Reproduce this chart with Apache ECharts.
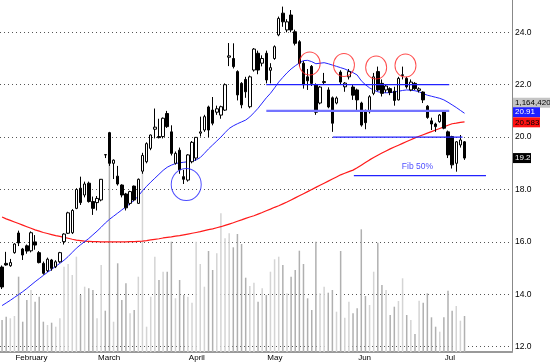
<!DOCTYPE html>
<html><head><meta charset="utf-8">
<script src="https://cdn.jsdelivr.net/npm/echarts@6/dist/echarts.min.js"></script>
<style>html,body{margin:0;padding:0;background:#fff}#c{width:550px;height:364px}</style>
</head><body><div id="c"></div>
<script>
// ---------- data ----------
const SLOTS = 124; // trading-day slots on the time axis (last ones empty)
const categories = Array.from({length: SLOTS}, (_, i) => 'd' + i);
const monthNames = ['February', 'March', 'April', 'May', 'Jun', 'Jul'];
const monthStartIdx = [3, 23, 45, 64, 86, 107];
const priceTicks = [12, 14, 16, 18, 20, 22, 24];

// [open, close, low, high]
const ohlc = [
[15.04,14.28,14.2,15.1],[15.18,15.12,15.09,15.62],[15.09,15.21,15.05,15.35],[15.59,15.92,15.55,15.95],[16.34,15.96,15.84,16.43],
[15.73,15.5,15.31,15.77],[15.85,15.65,15.55,15.9],[15.66,16.35,15.6,16.4],[16.0,15.88,15.7,16.26],[15.59,15.21,15.18,15.65],
[15.18,14.8,14.75,15.25],[14.9,15.34,14.85,15.4],[15.31,14.99,14.9,15.35],[15.05,15.24,15.0,15.3],[15.24,15.59,15.2,15.62],
[16.01,16.3,15.9,16.33],[16.33,17.11,16.3,17.15],[16.35,17.2,16.3,17.25],[17.28,18.0,17.25,18.05],[18.05,17.5,17.41,18.49],
[17.79,18.21,17.7,18.3],[18.24,17.54,17.5,18.3],[17.54,17.28,17.03,17.73],[17.5,17.66,17.2,17.75],[17.6,18.39,17.55,18.4],
[19.33,19.32,19.2,19.35],[20.17,19.0,18.9,20.2],[19.0,19.12,18.4,19.15],[18.51,18.21,18.15,18.9],[18.17,17.79,17.7,18.2],
[17.83,17.3,17.2,17.87],[17.47,17.92,17.4,17.95],[18.13,17.6,17.55,18.15],[17.47,18.39,17.45,18.42],[18.7,19.3,18.6,19.4],
[19.06,19.75,19.0,19.8],[19.57,20.08,19.5,20.1],[20.3,20.38,19.95,21.09],[20.02,19.98,19.95,20.7],[20.02,20.72,19.95,20.75],
[20.9,20.4,20.35,21.0],[20.2,19.38,19.3,20.45],[19.0,19.38,18.95,19.45],[19.5,18.75,18.6,19.6],[18.49,18.39,18.21,18.75],
[18.36,19.32,18.3,19.35],[19.06,19.8,19.0,19.85],[19.2,19.99,19.1,20.0],[20.15,20.2,20.02,20.78],[20.27,20.78,20.2,20.85],
[21.15,20.27,20.0,21.2],[21.03,20.53,20.45,21.53],[20.95,21.08,20.85,21.2],[20.84,21.16,20.7,21.2],[21.03,22.0,21.0,22.05],
[23.05,23.1,22.71,23.59],[23.0,22.69,22.62,23.58],[22.5,21.61,21.4,22.55],[22.05,21.23,21.1,22.1],[22.2,21.73,21.5,22.3],
[21.16,22.3,21.1,22.35],[22.56,23.36,22.5,23.4],[23.2,22.56,22.4,23.3],[22.82,23.0,22.7,23.12],[23.2,22.18,22.05,23.3],
[22.55,22.65,22.05,22.82],[23.0,23.45,22.95,23.5],[23.9,24.53,23.85,24.6],[24.73,24.4,24.21,24.98],[24.09,24.4,24.0,24.5],
[24.66,24.09,24.0,24.85],[24.02,23.58,23.5,24.1],[23.64,22.82,22.7,23.7],[22.82,22.0,21.85,22.9],[22.3,22.15,21.8,22.6],
[22.7,22.05,21.95,22.75],[22.0,20.95,20.85,22.05],[21.3,21.91,21.25,21.95],[22.08,22.12,21.99,22.45],[21.8,21.15,21.1,21.9],
[21.5,20.53,20.2,21.55],[21.3,21.49,21.25,21.55],[22.48,22.1,22.0,22.55],[21.92,22.06,21.73,22.1],[22.3,22.5,22.2,22.6],
[21.91,21.6,21.42,22.0],[21.8,21.42,21.03,21.85],[21.3,20.46,20.4,21.35],[21.0,20.55,20.3,21.05],[20.97,21.54,20.9,21.6],
[21.67,22.3,21.6,22.45],[22.5,21.8,21.75,22.69],[22.05,21.67,21.55,22.2],[21.8,21.95,21.7,22.0],[21.85,21.7,21.6,21.9],
[21.75,21.4,21.2,21.92],[21.42,22.24,21.4,22.3],[22.35,22.38,22.2,22.69],[22.24,21.92,21.85,22.3],[21.8,22.1,21.75,22.2],
[22.05,21.85,21.8,22.1],[21.78,21.84,21.7,21.9],[21.72,21.42,21.3,21.75],[21.18,20.75,20.7,21.22],[20.62,20.5,20.27,20.74],
[20.5,20.4,20.2,20.55],[20.59,20.84,20.55,20.88],[20.97,20.34,20.3,21.0],[20.2,19.32,19.2,20.25],[20.02,18.94,18.8,20.05],
[19.0,19.82,18.68,19.85],[19.7,19.89,19.6,20.08],[19.82,19.2,19.13,19.85]
];

const volume = [
320000,353000,337000,360000,753000,303000,520000,620000,503000,553000,
303000,270000,293000,253000,337000,853000,880000,770000,953000,570000,
653000,637000,620000,337000,870000,413000,1890000,303000,887000,520000,
687000,387000,420000,753000,1820000,253000,553000,953000,720000,803000,
803000,1103000,537000,720000,570000,553000,493000,1103000,880000,653000,
1010000,820000,987000,1387000,1137000,1187000,1047000,1180000,1080000,743000,
660000,693000,503000,637000,570000,803000,927000,953000,870000,587000,
753000,820000,1013000,880000,537000,420000,1103000,587000,653000,593000,
620000,403000,1010000,343000,503000,387000,437000,1227000,560000,470000,
803000,1093000,670000,620000,370000,453000,510000,737000,370000,320000,
180000,513000,493000,587000,347000,253000,203000,347000,613000,413000,
460000,313000,360000
];

const maShort = [
13.57,13.67,13.77,13.88,13.99,14.1,14.22,14.35,14.48,14.6,
14.72,14.84,14.95,15.07,15.18,15.3,15.44,15.6,15.76,15.89,
16.01,16.13,16.27,16.41,16.56,16.72,16.86,16.98,17.1,17.22,
17.34,17.46,17.59,17.75,17.95,18.12,18.28,18.43,18.58,18.73,
18.85,18.93,18.99,19.02,19.04,19.06,19.09,19.13,19.22,19.38,
19.55,19.7,19.85,20.0,20.17,20.33,20.43,20.51,20.58,20.65,
20.77,20.93,21.1,21.3,21.5,21.67,21.88,22.1,22.28,22.45,
22.6,22.72,22.83,22.92,22.93,22.88,22.8,22.82,22.84,22.8,
22.75,22.7,22.65,22.6,22.53,22.46,22.37,22.15,22.0,21.88,
21.79,21.73,21.7,21.69,21.7,21.72,21.75,21.78,21.8,21.79,
21.77,21.73,21.66,21.6,21.56,21.52,21.48,21.42,21.33,21.23,
21.13,21.02,20.91
];

const maLong = [
16.95,16.88,16.82,16.76,16.7,16.64,16.58,16.52,16.46,16.41,
16.36,16.32,16.28,16.24,16.21,16.17,16.14,16.1,16.07,16.05,
16.03,16.02,16.01,16.01,16.0,16.0,16.0,16.0,16.0,16.0,
16.0,16.01,16.01,16.02,16.03,16.05,16.08,16.1,16.12,16.15,
16.17,16.19,16.22,16.24,16.27,16.3,16.33,16.36,16.39,16.43,
16.47,16.5,16.54,16.58,16.63,16.68,16.73,16.79,16.84,16.9,
16.95,17.0,17.06,17.12,17.19,17.25,17.32,17.38,17.45,17.52,
17.6,17.68,17.76,17.84,17.92,18.0,18.08,18.16,18.24,18.32,
18.4,18.48,18.56,18.62,18.68,18.74,18.83,18.93,19.03,19.13,
19.22,19.31,19.39,19.47,19.55,19.62,19.69,19.76,19.83,19.9,
19.97,20.03,20.09,20.15,20.21,20.27,20.33,20.39,20.45,20.51,
20.53,20.56,20.583
];

// drawn support / resistance levels: [price, fromSlot, toSlot]
const levelStrong = [[22.0, 64.0, 108.3], [20.0, 80.1, 111.5], [18.53, 85.2, 117.2]];
const levelSoft = [[21.0, 64.0, 108.3]];
const topCircles = [[74.5, 22.81], [82.8, 22.75], [90.6, 22.66], [97.7, 22.73]];
const bottomCircle = [[44.6, 18.19]];
const fibNote = [[100.6, 18.86, 'Fib 50%']];
const volumeTag = '1,164,420';

// ---------- chart ----------
const FONT = '"Liberation Sans", Arial, sans-serif';
const chart = echarts.init(document.getElementById('c'), null, {renderer: 'canvas'});
const monthAt = {};
monthStartIdx.forEach((k, i) => monthAt[k] = monthNames[i]);
const isMonth = (idx) => monthAt[idx] !== undefined;

function levelSeries(rows, color, width) {
  return rows.map(r => ({
    type: 'line', xAxisIndex: 2, yAxisIndex: 0, silent: true, symbol: 'none', z: 6,
    lineStyle: {color: color, width: width},
    data: [[r[1], r[0]], [r[2], r[0]]]
  }));
}

chart.setOption({
  animation: false,
  backgroundColor: '#fff',
  grid: [
    {left: -3, right: 38, top: 32.3, bottom: 17.3},
    {left: -3, right: 38, top: 0, bottom: 12}
  ],
  xAxis: [
    {type: 'category', gridIndex: 0, data: categories, show: false},
    {type: 'category', gridIndex: 1, data: categories,
     axisLine: {lineStyle: {color: '#999', width: 2}},
     axisTick: {interval: isMonth, alignWithLabel: true, length: 3, lineStyle: {color: '#444'}},
     axisLabel: {interval: isMonth, formatter: (v, i) => monthAt[i] || '', align: 'left',
                 fontSize: 8, fontFamily: FONT, color: '#000', margin: 2, padding: [0, 0, 0, 1]}},
    {type: 'value', gridIndex: 0, min: -0.5, max: SLOTS - 0.5, show: false}
  ],
  yAxis: [
    {type: 'value', gridIndex: 0, position: 'right', min: priceTicks[0], max: priceTicks[priceTicks.length - 1], interval: 2,
     axisLine: {show: false}, axisTick: {show: false},
     axisLabel: {formatter: v => v.toFixed(1), fontSize: 8.5, fontFamily: FONT, color: '#000', margin: 3},
     splitLine: {show: true, lineStyle: {type: [1, 3], color: '#555', width: 1}}},
    {type: 'value', gridIndex: 1, position: 'right', min: 0, max: 3520000,
     axisLine: {show: true, lineStyle: {color: '#888', width: 1}},
     axisTick: {show: false}, axisLabel: {show: false}, splitLine: {show: false}}
  ],
  series: [
    {type: 'bar', xAxisIndex: 1, yAxisIndex: 1, barWidth: 1.5, silent: true, z: 1,
     data: volume.map((v, i) => ({value: v, itemStyle: {color: ohlc[i][1] >= ohlc[i][0] ? '#d4d4d4' : '#b0b0b0'}}))},
    {type: 'line', xAxisIndex: 0, yAxisIndex: 0, data: maLong, symbol: 'none', silent: true, z: 3,
     lineStyle: {color: '#ff1a1a', width: 1.2}},
    {type: 'line', xAxisIndex: 0, yAxisIndex: 0, data: maShort, symbol: 'none', silent: true, z: 3,
     lineStyle: {color: '#2424ff', width: 1}},
    {type: 'candlestick', xAxisIndex: 0, yAxisIndex: 0, data: ohlc, barWidth: 3, clip: false, silent: true, z: 5,
     itemStyle: {color: '#fff', color0: '#000', borderColor: '#000', borderColor0: '#000', borderColorDoji: '#000', borderWidth: 1}},
    ...levelSeries(levelSoft, '#7474ff', 2.2),
    ...levelSeries(levelStrong, '#2222ff', 1.3),
    {type: 'scatter', xAxisIndex: 2, yAxisIndex: 0, data: topCircles, symbol: 'circle', symbolSize: [21, 23], silent: true, z: 7,
     itemStyle: {color: 'rgba(0,0,0,0)', borderColor: '#ff2020', borderWidth: 1}},
    {type: 'scatter', xAxisIndex: 2, yAxisIndex: 0, data: bottomCircle, symbol: 'circle', symbolSize: [30, 32], silent: true, z: 7,
     itemStyle: {color: 'rgba(0,0,0,0)', borderColor: '#2020ff', borderWidth: 1}},
    {type: 'scatter', xAxisIndex: 2, yAxisIndex: 0, data: fibNote, symbolSize: 0, silent: true, z: 7,
     label: {show: true, position: 'inside', formatter: p => p.data[2], color: '#2020ff', fontSize: 8.5, fontFamily: FONT}}
  ]
});

// value tags on the right edge
const toY = v => chart.convertToPixel({yAxisIndex: 0}, v);
const lastShort = maShort[maShort.length - 1];
const lastLong = maLong[maLong.length - 1];
const lastClose = ohlc[ohlc.length - 1][1];
function tag(text, y, bg, fg, w) {
  return {type: 'text', x: 513, y: y, z: 100, silent: true,
    style: {text: text, fill: fg, backgroundColor: bg, font: '8px ' + FONT,
            padding: [1, 2, 1, 2], width: w, verticalAlign: 'middle', textVerticalAlign: 'middle', align: 'left'}};
}
const yShort = toY(lastShort);
chart.setOption({graphic: [
  tag(volumeTag, yShort - 10.5, '#c4c4c4', '#000', 40),
  tag(lastShort.toFixed(2), yShort - 1, '#1f1fff', '#fff', 23),
  tag(lastLong.toFixed(3), toY(lastLong) + 0.5, '#ff1010', '#000', 23),
  tag(lastClose.toFixed(1), toY(lastClose), '#000', '#fff', 14)
]});
</script>
</body></html>
